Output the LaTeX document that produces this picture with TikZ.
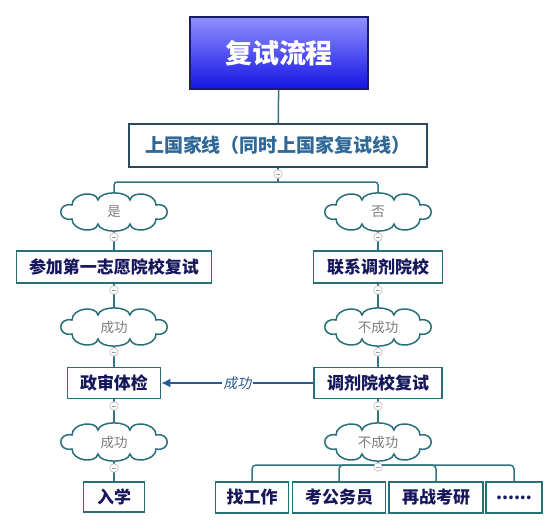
\documentclass[tikz,border=0pt]{standalone}
\usepackage{fontspec}
\setmainfont{Noto Sans CJK SC}
\newfontfamily\cjkit{Noto Sans CJK SC}[FakeSlant=0.2]
\usetikzlibrary{arrows.meta}
\definecolor{tealc}{RGB}{42,110,120}
\definecolor{linec}{RGB}{50,115,125}
\definecolor{navyt}{RGB}{22,22,92}
\definecolor{gatet}{RGB}{47,104,150}
\definecolor{gateb}{RGB}{40,75,100}
\definecolor{cloudt}{RGB}{125,125,125}
\definecolor{arrowc}{RGB}{40,88,150}
\definecolor{titleb}{RGB}{26,26,110}
\tikzset{
  boxn/.style={draw=tealc, line width=1.8pt, fill=white, inner sep=0pt,
    text=navyt, font=\bfseries\fontsize{17}{17}\selectfont},
  cloudn/.style={inner sep=0pt, text=cloudt, font=\fontsize{13.5}{13.5}\selectfont,
    minimum width=107pt, minimum height=38pt},
  cloudp/.pic={
    \draw[draw=tealc, line width=1.5pt, fill=white]
      (-42,7) .. controls (-57,10) and (-57,-10) .. (-42,-7)
      .. controls (-42,-19) and (-18,-22) .. (-16,-12)
      .. controls (-14,-21.5) and (14,-21.5) .. (16,-12)
      .. controls (18,-22) and (42,-19) .. (42,-7)
      .. controls (57,-10) and (57,10) .. (42,7)
      .. controls (42,19) and (18,22) .. (16,12)
      .. controls (14,21.5) and (-14,21.5) .. (-16,12)
      .. controls (-18,22) and (-42,19) .. (-42,7) -- cycle;
  },
  conn/.style={draw=linec, line width=1.5pt},
  fold/.style={circle, draw=gray!55, fill=white, minimum size=8.5pt, inner sep=0pt,
    line width=0.6pt,
    path picture={\draw[gray!75, line width=0.6pt]
      ([xshift=-2.3pt]path picture bounding box.center) --
      ([xshift=2.3pt]path picture bounding box.center);}},
}
\begin{document}
\begin{tikzpicture}[x=1pt,y=-1pt]
\useasboundingbox (0,0) rectangle (558,530);
\coordinate (j1) at (278,182);
\coordinate (j2) at (378,465);
\node[draw=titleb, line width=2pt, top color={rgb,255:red,145;green,145;blue,255},
  bottom color={rgb,255:red,20;green,20;blue,228}, minimum width=178pt,
  minimum height=72pt, inner sep=0pt, text=white,
  font=\bfseries\fontsize{27}{27}\selectfont] (title) at (279,53) {复试流程};
\node[boxn, draw=gateb, text=gatet, minimum width=298pt, minimum height=43pt,
  font=\bfseries\fontsize{19}{19}\selectfont] (gate) at (278,145.5) {上国家线（同时上国家复试线）};
\pic at (114,212) {cloudp};
\node[cloudn] (yes) at (114,212) {是};
\pic at (378,212) {cloudp};
\node[cloudn] (no) at (378,212) {否};
\node[boxn, minimum width=195pt, minimum height=32pt] (first) at (114,267) {参加第一志愿院校复试};
\node[boxn, minimum width=129pt, minimum height=32pt] (contact) at (378,267) {联系调剂院校};
\pic at (114,327) {cloudp};
\node[cloudn] (succ1) at (114,327) {成功};
\pic at (378,327) {cloudp};
\node[cloudn] (fail1) at (378,327) {不成功};
\node[boxn, minimum width=93pt, minimum height=31pt] (check) at (114,383) {政审体检};
\node[boxn, minimum width=128pt, minimum height=31pt] (adjust) at (378,383) {调剂院校复试};
\pic at (114,442) {cloudp};
\node[cloudn] (succ2) at (114,442) {成功};
\pic at (378,442) {cloudp};
\node[cloudn] (fail2) at (378,442) {不成功};
\node[boxn, minimum width=61pt, minimum height=30pt] (enter) at (114,497) {入学};
\node[boxn, minimum width=73pt, minimum height=31pt] (job) at (252,497.5) {找工作};
\node[boxn, minimum width=93pt, minimum height=31pt] (civil) at (339,497.5) {考公务员};
\node[boxn, minimum width=94pt, minimum height=31pt] (again) at (436,497.5) {再战考研};
\node[boxn, minimum width=56pt, minimum height=31pt] (more) at (514,497.5) {......};
% connectors
\draw[conn] (title) -- (gate);
\draw[conn] (gate) -- (j1);
\draw[conn, rounded corners=3pt] (j1) -| (yes.north);
\draw[conn, rounded corners=3pt] (j1) -| (no.north);
\draw[conn] (yes) -- (first);
\draw[conn] (first) -- (succ1);
\draw[conn] (succ1) -- (check);
\draw[conn] (check) -- (succ2);
\draw[conn] (succ2) -- (enter);
\draw[conn] (no) -- (contact);
\draw[conn] (contact) -- (fail1);
\draw[conn] (fail1) -- (adjust);
\draw[conn] (adjust) -- (fail2);
\draw[conn] (fail2) -- (j2);
\draw[conn, rounded corners=4pt] (j2) -| (job.north);
\draw[conn, rounded corners=4pt] (j2) -| (civil.north);
\draw[conn, rounded corners=4pt] (j2) -| (again.north);
\draw[conn, rounded corners=4pt] (j2) -| (more.north);
\draw[arrowc, line width=1.3pt, -{Latex[length=9pt,width=9pt]}] (adjust.west) --
  node[fill=white, inner sep=1.5pt, text=arrowc, font=\cjkit\fontsize{14}{14}\selectfont] (lbl) {成功} (check.east);
% fold markers
\node[fold] (f0) at (278,174) {};
\node[fold] (f1) at (114,237) {};
\node[fold] (f2) at (114,290) {};
\node[fold] (f3) at (114,352) {};
\node[fold] (f4) at (114,406) {};
\node[fold] (f5) at (114,468) {};
\node[fold] (g1) at (378,237) {};
\node[fold] (g2) at (378,290) {};
\node[fold] (g3) at (378,352) {};
\node[fold] (g4) at (378,406) {};
\node[fold] (g5) at (378,467) {};
\end{tikzpicture}
\end{document}
